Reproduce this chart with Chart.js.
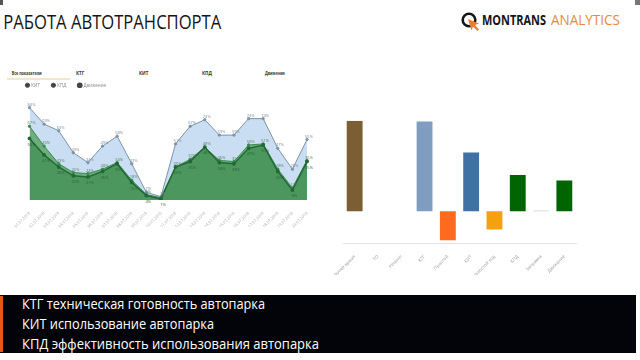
<!DOCTYPE html>
<html>
<head>
<meta charset="utf-8">
<script src="https://cdn.jsdelivr.net/npm/chart.js@4.4.1/dist/chart.umd.min.js"></script>
<style>
  body { margin: 0; width: 640px; height: 360px; background: #fff; position: relative; overflow: hidden; font-family: "Open Sans", sans-serif; }
  #slide { position: absolute; left: 0; top: 0; }
  #trendBox { position: absolute; left: 0; top: 71px; width: 320px; height: 157px; }
  #stepsBox { position: absolute; left: 300px; top: 105px; width: 340px; height: 170px; }
</style>
</head>
<body>
<svg id="slide" width="640" height="360" font-family="Open Sans, sans-serif">
  <rect x="0" y="0" width="3" height="5" fill="#555"/>
  <rect x="635" y="0" width="5" height="5" fill="#777"/>
  <text x="3.3" y="29.3" font-size="20" fill="#151515" textLength="218" lengthAdjust="spacingAndGlyphs">РАБОТА АВТОТРАНСПОРТА</text>

  <circle cx="469" cy="20" r="6.3" fill="none" stroke="#151515" stroke-width="2.6"/>
  <polygon points="468,19 479,23.5 475,25 479,29.5 477.5,31 473,26.5 471.5,30.5" fill="#f07c2a"/>
  <text x="482" y="25" font-size="13.5" font-weight="700" fill="#151515" textLength="64" lengthAdjust="spacingAndGlyphs">MONTRANS</text>
  <text x="551" y="25" font-size="14" fill="#e8893b" textLength="69" lengthAdjust="spacingAndGlyphs">ANALYTICS</text>

  <g font-size="4.5" font-weight="700" fill="#333">
    <text x="11.7" y="75" textLength="30" lengthAdjust="spacingAndGlyphs">Все показатели</text>
    <text x="76" y="75">КТГ</text>
    <text x="139" y="75">КИТ</text>
    <text x="202" y="75">КПД</text>
    <text x="265" y="75" textLength="20" lengthAdjust="spacingAndGlyphs">Движение</text>
  </g>
  <line x1="7" y1="79" x2="70" y2="79" stroke="#e3cf93" stroke-width="1"/>

  <rect x="0" y="295" width="636" height="58" fill="#03030a"/>
  <rect x="0" y="296" width="3" height="56" fill="#e9541c"/>
  <g font-size="14" fill="#fff">
    <text x="22" y="309" textLength="243" lengthAdjust="spacingAndGlyphs">КТГ техническая готовность автопарка</text>
    <text x="22" y="329" textLength="192" lengthAdjust="spacingAndGlyphs">КИТ использование автопарка</text>
    <text x="22" y="349" textLength="297" lengthAdjust="spacingAndGlyphs">КПД  эффективность использования автопарка</text>
  </g>
</svg>

<div id="trendBox"><canvas id="trendChart" width="320" height="157"></canvas></div>
<div id="stepsBox"><canvas id="stepsChart" width="340" height="170"></canvas></div>

<script>
// left chart: daily indicators
const dates = [
  '01.07.2018', '02.07.2018', '03.07.2018', '04.07.2018', '05.07.2018',
  '06.07.2018', '07.07.2018', '08.07.2018', '09.07.2018', '10.07.2018',
  '11.07.2018', '12.07.2018', '13.07.2018', '14.07.2018', '15.07.2018',
  '16.07.2018', '17.07.2018', '18.07.2018', '19.07.2018', '20.07.2018'
];
const kitValues = [84, 69, 63, 43, 34, 49, 58, 33, 7, 3, 51, 67, 73, 59, 59, 74, 74, 47, 28, 55];
const kpdValues = [67, 49, 33, 25, 24, 28, 34, 18, 5, 2, 30, 37, 48, 36, 35, 50, 51, 28, 11, 36];
const moveValues = [56, 41, 30, 22, 21, 26, 33, 16, 4, 1, 30, 35, 48, 34, 33, 47, 50, 26, 9, 35];

// right chart: time breakdown
const stepLabels = ['Рабочее время', 'ТО', 'Ремонт', 'КТГ', 'Простой', 'КИТ', 'Холостой ход', 'КПД', 'Заправка', 'Движение'];
const stepValues = [100, 0, 0, 99, -32, 65, -20, 40, 1, 34];
const stepColors = ['#7b5e34', '#999999', '#999999', '#7f9dc0', '#ff6a1f', '#3e72a4', '#f5a00f', '#006400', '#c8d8e4', '#006400'];

const TREND_MAX = 93.2; // plot is ~102px tall, 1.1px per percent

// small % labels next to every point
const valueLabels = {
    id: 'valueLabels',
    afterDatasetsDraw(chart) {
        const ctx = chart.ctx;
        ctx.save();
        ctx.font = '4px "Open Sans"';
        ctx.textAlign = 'center';
        chart.data.datasets.forEach((ds, i) => {
            const meta = chart.getDatasetMeta(i);
            ctx.fillStyle = ds.labelColor;
            meta.data.forEach((pt, j) => {
                ctx.fillText(ds.data[j] + '%', pt.x + 2, pt.y + ds.labelShift);
            });
        });
        ctx.restore();
    }
};

new Chart(document.getElementById('trendChart'), {
    type: 'line',
    data: {
        labels: dates,
        // last dataset is drawn first, so КИТ goes at the end to sit underneath
        datasets: [
            {
                label: 'Движение',
                data: moveValues,
                borderColor: '#1f6a33',
                backgroundColor: '#4b975e',
                pointBackgroundColor: '#1f6a33',
                borderWidth: 1.5,
                fill: 'origin',
                labelColor: '#2f5e3a',
                labelShift: 6,
            },
            {
                label: 'КПД',
                data: kpdValues,
                borderColor: '#3c8a50',
                backgroundColor: '#6fae7c',
                pointBackgroundColor: '#3c8a50',
                borderWidth: 1,
                fill: 'origin',
                labelColor: '#5c7a62',
                labelShift: -3,
            },
            {
                label: 'КИТ',
                data: kitValues,
                borderColor: '#7d93aa',
                backgroundColor: '#c9def2',
                pointBackgroundColor: '#7d93aa',
                borderWidth: 1,
                fill: 'origin',
                labelColor: '#7d8a96',
                labelShift: -3,
            },
        ],
    },
    options: {
        responsive: false,
        animation: false,
        elements: { point: { radius: 1.2, borderWidth: 0 }, line: { tension: 0 } },
        layout: { padding: { left: 14, right: 13, top: 0, bottom: 0 } },
        plugins: {
            legend: {
                position: 'top',
                align: 'start',
                reverse: true,
                labels: {
                    usePointStyle: true,
                    pointStyle: 'circle',
                    boxWidth: 3,
                    boxHeight: 3,
                    padding: 12,
                    color: '#888',
                    font: { size: 4.5, family: 'Open Sans' },
                    generateLabels: (chart) => Chart.defaults.plugins.legend.labels.generateLabels(chart)
                        .map(item => ({ ...item, fillStyle: '#444', strokeStyle: '#444' })),
                },
            },
            tooltip: { enabled: false },
        },
        scales: {
            x: {
                grid: { display: false },
                border: { display: false },
                ticks: { autoSkip: false, maxRotation: 45, minRotation: 45, color: '#aaa', font: { size: 4, family: 'Open Sans' } },
                afterFit: (s) => { s.height = 28; s.paddingLeft = 0; s.paddingRight = 0; },
            },
            y: {
                min: 0,
                max: TREND_MAX,
                grid: { display: false },
                border: { display: false },
                ticks: { display: false },
                afterFit: (s) => { s.width = 15.5; },
            },
        },
    },
    plugins: [valueLabels],
});

new Chart(document.getElementById('stepsChart'), {
    type: 'bar',
    data: {
        labels: stepLabels,
        datasets: [{
            data: stepValues,
            backgroundColor: stepColors,
            barPercentage: 0.68,
            categoryPercentage: 1,
        }],
    },
    options: {
        responsive: false,
        animation: false,
        layout: { padding: { left: 43, right: 64, top: 15.7, bottom: 0 } },
        plugins: { legend: { display: false }, tooltip: { enabled: false } },
        scales: {
            x: {
                grid: { display: false },
                border: { display: true, color: '#e2e2e2', width: 1 },
                ticks: { autoSkip: false, maxRotation: 45, minRotation: 45, color: '#999', font: { size: 4.5, family: 'Open Sans' } },
                afterFit: (s) => { s.height = 32; s.paddingLeft = 0; s.paddingRight = 0; },
            },
            y: {
                display: false,
                min: -35,
                max: 100,
            },
        },
    },
});
</script>
</body>
</html>
